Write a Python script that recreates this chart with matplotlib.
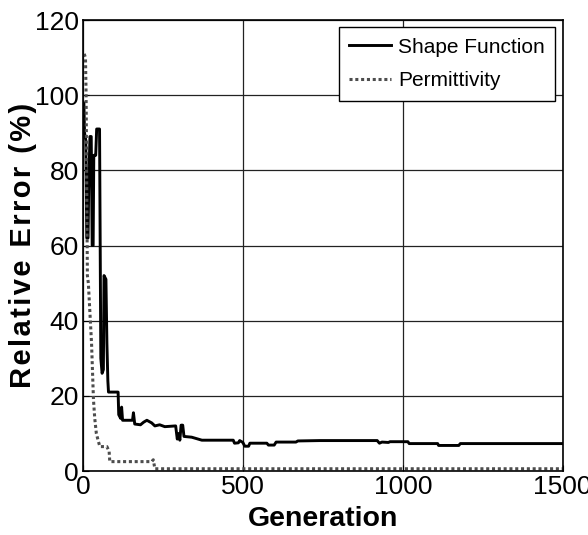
import numpy as np
import matplotlib
matplotlib.use('Agg')
import matplotlib.pyplot as plt

plt.rcParams['font.family'] = ['Liberation Sans', 'DejaVu Sans']

# data
gen_shape = [0, 3, 5, 9, 12, 16, 18, 22, 26, 29, 32, 34, 40, 43, 52, 56, 60, 64, 66,
             72, 75, 78, 80, 110, 112, 118, 121, 124, 155, 158, 162, 180, 190, 200,
             215, 225, 240, 256, 290, 295, 300, 303, 307, 312, 316, 340, 372, 470,
             474, 486, 490, 500, 506, 518, 522, 575, 580, 598, 604, 666, 672, 740,
             920, 927, 935, 955, 960, 1016, 1020, 1109, 1112, 1175, 1180, 1500]
err_shape = [98, 98, 90, 88, 62, 62, 75, 89, 89, 60, 60, 84, 84, 91, 91, 30, 26, 27, 52,
             51, 34, 24, 21, 21, 15, 14, 17, 13.5, 13.5, 15.5, 12.5, 12.3, 13, 13.5,
             12.8, 12, 12.3, 11.8, 12, 8.5, 10, 8.2, 12.2, 12.2, 9.2, 9, 8.2, 8.2,
             7.4, 7.5, 8.1, 7.6, 6.6, 6.6, 7.4, 7.4, 6.9, 6.9, 7.7, 7.7, 8.0, 8.1,
             8.1, 7.4, 7.7, 7.6, 7.8, 7.8, 7.3, 7.3, 6.8, 6.8, 7.3, 7.3]

gen_perm = [4, 8, 10, 12, 14, 17, 22, 27, 33, 37, 42, 48, 53, 75, 82, 84, 215, 220,
            225, 1500]
err_perm = [111, 110, 100, 75, 52, 50, 42, 34, 19, 14, 10, 8, 6.5, 6.5, 5.2, 2.5, 2.5,
            3, 0.6, 0.6]

fig = plt.figure(figsize=(5.88, 5.35), dpi=100)
ax = fig.add_axes([0.141, 0.1196, 0.816, 0.843])

ax.plot(gen_shape, err_shape, color='black', lw=2.1, label='Shape Function')
ax.plot(gen_perm, err_perm, color='#4d4d4d', lw=2.2, dashes=(1, 0.9),
        label='Permittivity')

ax.set_xlim(0, 1500)
ax.set_ylim(0, 120)
ax.set_xticks([0, 500, 1000, 1500])
ax.set_yticks(np.arange(0, 121, 20))
ax.grid(True, color='#222222', lw=0.9, ls='-')
ax.set_axisbelow(True)
ax.tick_params(direction='in', length=4, labelsize=19, pad=3, width=0.8)
for s in ax.spines.values():
    s.set_linewidth(1.2)

ax.set_xlabel('Generation', fontsize=20.5, fontweight='bold', labelpad=5)
hs = '\u200a'
ax.set_ylabel(hs.join('Relative Error (%)'), fontsize=21, fontweight='bold')
ax.yaxis.set_label_coords(-0.095, 0.5)

leg = ax.legend(loc='upper right', fontsize=15, fancybox=False, framealpha=1,
                edgecolor='black', borderaxespad=0.35, handlelength=2.0,
                handletextpad=0.35, borderpad=0.5, labelspacing=0.7)
leg.get_frame().set_linewidth(1.0)

fig.savefig('out.png', dpi=100)
